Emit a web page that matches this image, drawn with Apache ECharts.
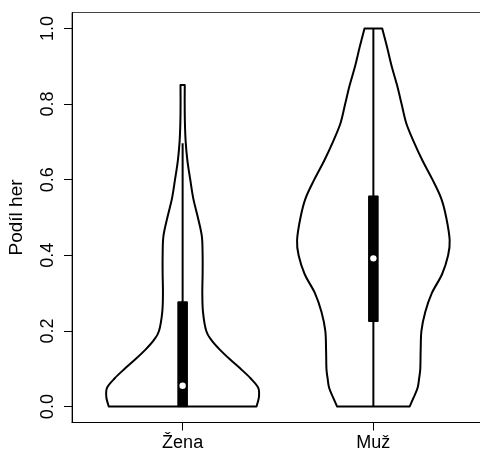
<!DOCTYPE html>
<html>
<head>
<meta charset="utf-8">
<script src="https://cdn.jsdelivr.net/npm/echarts@6/dist/echarts.min.js"></script>
<style>
  html, body { margin: 0; padding: 0; background: #fff; }
  #chart { width: 480px; height: 452px; }
</style>
</head>
<body>
<div id="chart"></div>
<script>
// Groups on the x axis and tick values on the y axis
const categories = ['Žena', 'Muž'];
const yTickValues = [0, 0.2, 0.4, 0.6, 0.8, 1.0];

// Density outlines: share of games (level) and relative density (1 = widest point)
const zenaLevels  = [0, 0.025, 0.05, 0.075, 0.1, 0.125, 0.15, 0.175, 0.2, 0.25, 0.3, 0.35, 0.4, 0.45, 0.5, 0.55, 0.6, 0.65, 0.7, 0.75, 0.8, 0.85];
const zenaDensity = [0.968, 1.0, 0.99, 0.89, 0.76, 0.62, 0.49, 0.38, 0.31, 0.267, 0.258, 0.262, 0.262, 0.252, 0.2, 0.14, 0.1, 0.063, 0.04, 0.03, 0.027, 0.028];

const muzLevels  = [0, 0.025, 0.05, 0.075, 0.1, 0.15, 0.2, 0.25, 0.3, 0.35, 0.4, 0.44, 0.5, 0.55, 0.6, 0.65, 0.7, 0.75, 0.8, 0.85, 0.9, 0.95, 1.0];
const muzDensity = [0.474, 0.53, 0.58, 0.6, 0.615, 0.62, 0.63, 0.68, 0.766, 0.9, 0.98, 1.0, 0.955, 0.89, 0.775, 0.645, 0.53, 0.43, 0.37, 0.31, 0.24, 0.18, 0.116];

// Box-plot summaries per group
const lowerWhisker = [0, 0];
const upperWhisker = [0.696, 1.0];
const quartile1 = [0, 0.225];
const quartile3 = [0.277, 0.557];
const medians = [0.055, 0.392];

const violinLevels = [zenaLevels, muzLevels];
const violinDensity = [zenaDensity, muzDensity];

const HALF_WIDTH = 0.4;   // violin half-width at maximum density, in x units
const BOX_HALF = 0.025;   // half-width of the quartile bar, in x units
const INK = '#000';

// Smooth curve through pixel points (Catmull-Rom written as cubic Bezier segments)
function curveThrough(pts) {
  let d = '';
  for (let k = 0; k < pts.length - 1; k++) {
    const p0 = pts[Math.max(k - 1, 0)], p1 = pts[k], p2 = pts[k + 1], p3 = pts[Math.min(k + 2, pts.length - 1)];
    const c1x = p1[0] + (p2[0] - p0[0]) / 6, c1y = p1[1] + (p2[1] - p0[1]) / 6;
    const c2x = p2[0] - (p3[0] - p1[0]) / 6, c2y = p2[1] - (p3[1] - p1[1]) / 6;
    d += ' C' + c1x + ' ' + c1y + ' ' + c2x + ' ' + c2y + ' ' + p2[0] + ' ' + p2[1];
  }
  return d;
}

function renderViolin(params, api) {
  const i = params.dataIndex;
  const pos = api.value(0);
  const levels = violinLevels[i];
  const dens = violinDensity[i];
  const right = [], left = [];
  for (let k = 0; k < levels.length; k++) {
    right.push(api.coord([pos + HALF_WIDTH * dens[k], levels[k]]));
    left.push(api.coord([pos - HALF_WIDTH * dens[k], levels[k]]));
  }
  const n = levels.length - 1;
  const leftDown = left.slice().reverse();
  const pathData = 'M' + left[0][0] + ' ' + left[0][1] +
    ' L' + right[0][0] + ' ' + right[0][1] +
    curveThrough(right) +
    ' L' + left[n][0] + ' ' + left[n][1] +
    curveThrough(leftDown) + ' Z';

  const boxTopLeft = api.coord([pos - BOX_HALF, quartile3[i]]);
  const boxBottomRight = api.coord([pos + BOX_HALF, quartile1[i]]);
  const wLow = api.coord([pos, lowerWhisker[i]]);
  const wHigh = api.coord([pos, upperWhisker[i]]);
  const med = api.coord([pos, medians[i]]);

  return {
    type: 'group',
    children: [
      {
        type: 'path',
        shape: { pathData: pathData },
        style: { stroke: INK, lineWidth: 2, fill: null, lineJoin: 'round', lineCap: 'round' }
      },
      { type: 'line', shape: { x1: wLow[0], y1: wLow[1], x2: wHigh[0], y2: wHigh[1] }, style: { stroke: INK, lineWidth: 2 } },
      {
        type: 'rect',
        shape: {
          x: boxTopLeft[0], y: boxTopLeft[1],
          width: boxBottomRight[0] - boxTopLeft[0],
          height: boxBottomRight[1] - boxTopLeft[1]
        },
        style: { fill: INK, stroke: INK, lineWidth: 1 }
      },
      { type: 'circle', shape: { cx: med[0], cy: med[1], r: 3.2 }, style: { fill: '#fff' } }
    ]
  };
}

const chart = echarts.init(document.getElementById('chart'), null, { renderer: 'canvas' });
const font = 'Liberation Sans, Arial, Helvetica, sans-serif';

chart.setOption({
  animation: false,
  backgroundColor: '#fff',
  grid: {
    left: 72, top: 12.5, right: -4, bottom: 29.5,
    containLabel: false,
    outerBoundsMode: 'none',
    show: true, borderColor: '#444', borderWidth: 1, backgroundColor: 'transparent'
  },
  xAxis: {
    type: 'value',
    min: 0.42, max: 2.58,
    splitLine: { show: false },
    axisLine: { show: true, onZero: false, lineStyle: { color: INK, width: 1 } },
    axisTick: { show: true, customValues: [1, 2], length: 8, lineStyle: { color: INK, width: 1 } },
    axisLabel: {
      customValues: [1, 2],
      formatter: v => categories[Math.round(v) - 1],
      color: INK, fontSize: 18, fontFamily: font, margin: 12
    }
  },
  yAxis: {
    type: 'value',
    min: -0.042, max: 1.042,
    splitLine: { show: false },
    axisLine: { show: true, onZero: false, lineStyle: { color: INK, width: 1 } },
    axisTick: { show: true, customValues: yTickValues, length: 8, lineStyle: { color: INK, width: 1 } },
    axisLabel: {
      customValues: yTickValues,
      rotate: 90,
      formatter: v => v.toFixed(1),
      color: INK, fontSize: 18, fontFamily: font, margin: 15
    },
    name: 'Podíl her',
    nameLocation: 'middle',
    nameRotate: 90,
    nameGap: 46,
    nameTextStyle: { color: INK, fontSize: 19, fontFamily: font }
  },
  series: [{
    type: 'custom',
    coordinateSystem: 'cartesian2d',
    silent: true,
    encode: { x: 0, y: 1 },
    data: [[1, 0], [2, 0]],
    renderItem: renderViolin
  }]
});
</script>
</body>
</html>
